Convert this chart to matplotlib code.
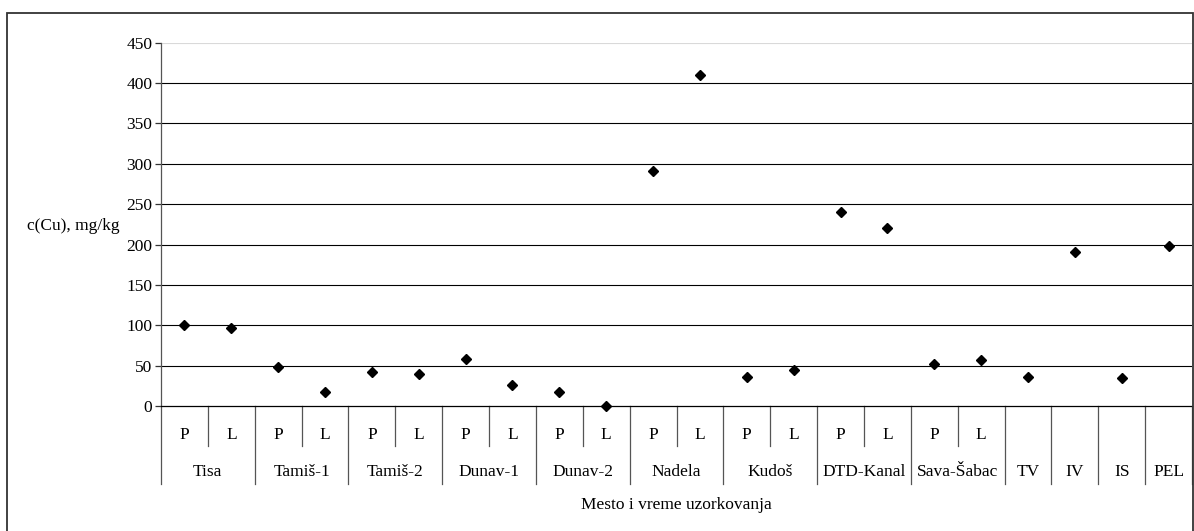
import matplotlib.pyplot as plt
import matplotlib.patches as mpatches
import matplotlib.transforms as mtransforms

# --------------------------------------------------------------
# Data: Cu content per sampling site (P / L), mg/kg
sites = ['Tisa', 'Tamiš-1', 'Tamiš-2', 'Dunav-1', 'Dunav-2', 'Nadela',
         'Kudoš', 'DTD-Kanal', 'Sava-Šabac', 'TV', 'IV', 'IS', 'PEL']
site_sizes = [2, 2, 2, 2, 2, 2, 2, 2, 2, 1, 1, 1, 1]
samples = ['P', 'L'] * 9 + ['', '', '', '']
cu = [100, 96, 48, 17, 42, 40, 58, 26, 17, 0, 291, 410,
      36, 45, 240, 220, 52, 57, 36, 191, 35, 198]
yticks = [0, 50, 100, 150, 200, 250, 300, 350, 400, 450]

plt.rcParams['font.family'] = ['Liberation Serif', 'DejaVu Serif']
plt.rcParams['font.size'] = 12.5

W, H = 1194, 531
fig = plt.figure(figsize=(W / 100, H / 100), dpi=100)
ax = fig.add_axes([161 / W, 1 - 406 / H, (1192 - 161) / W, (406 - 42.7) / H])

# chart area border
fig.add_artist(mpatches.Rectangle((7 / W, -0.02), (1193 - 7) / W, 1 - 12.7 / H + 0.02,
                                  transform=fig.transFigure, fill=False,
                                  edgecolor='#333333', linewidth=1.3))

n = len(cu)
xs = [i + 0.5 for i in range(n)]

# gridlines
for y in yticks[1:]:
    col = '#d9d9d9' if y == 450 else 'black'
    ax.axhline(y, color=col, linewidth=0.8, zorder=1)

ax.plot(xs, cu, linestyle='none', marker='D', markersize=5.5,
        color='black', zorder=3, clip_on=False)

ax.set_xlim(0, n)
ax.set_ylim(0, 450)
ax.set_yticks(yticks)
ax.set_xticks([])
for s in ['top', 'right']:
    ax.spines[s].set_visible(False)
ax.spines['left'].set_color('#555555')
ax.spines['bottom'].set_color('black')
ax.spines['left'].set_linewidth(0.9)
ax.spines['bottom'].set_linewidth(0.9)
ax.tick_params(axis='y', direction='out', length=4.3, width=0.9,
               color='#333333', pad=2)

# two-level category axis
trans = mtransforms.blended_transform_factory(ax.transData, ax.transAxes)
short_y, long_y = -0.110, -0.215
x = 0
ax.plot([0, 0], [0, long_y], transform=trans, color='#555555', lw=0.9, clip_on=False)
for name, size in zip(sites, site_sizes):
    for k in range(size):
        lab = samples[x + k]
        if lab:
            ax.text(x + k + 0.5, -0.08, lab, transform=trans,
                    ha='center', va='center')
        if k < size - 1:
            ax.plot([x + k + 1] * 2, [0, short_y], transform=trans,
                    color='#555555', lw=0.9, clip_on=False)
    ax.text(x + size / 2, -0.183, name, transform=trans,
            ha='center', va='center')
    x += size
    ax.plot([x, x], [0, long_y], transform=trans, color='#555555',
            lw=0.9, clip_on=False)

ax.text(0.5, -0.272, 'Mesto i vreme uzorkovanja', transform=ax.transAxes,
        ha='center', va='center')
fig.text(73 / W, 1 - 226 / H, 'c(Cu), mg/kg', ha='center', va='center')

fig.savefig('out.png', dpi=100)
